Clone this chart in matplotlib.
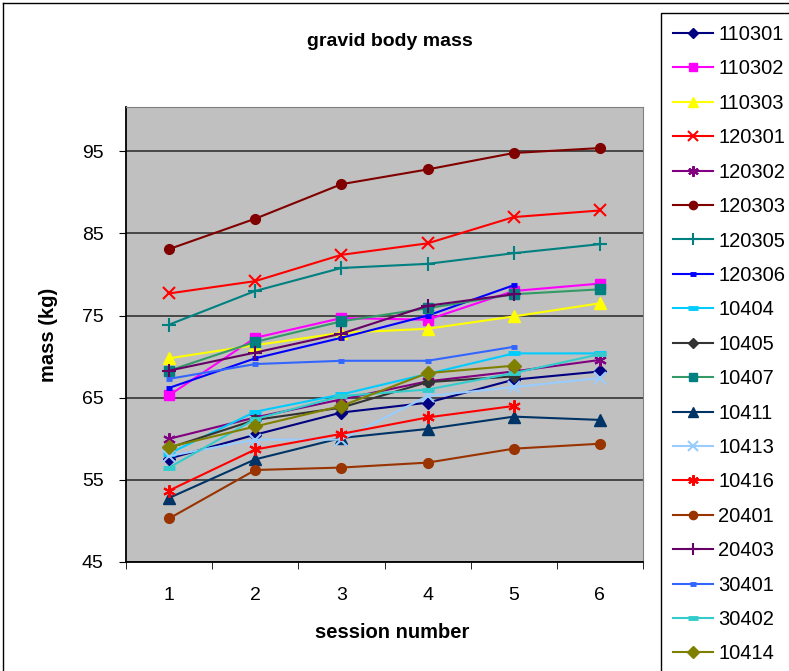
import numpy as np
import matplotlib.pyplot as plt
from matplotlib.lines import Line2D

plt.rcParams['font.family'] = ['Liberation Sans', 'DejaVu Sans']

nan = np.nan
sessions = [1, 2, 3, 4, 5, 6]
names = ['110301', '110302', '110303', '120301', '120302', '120303', '120305',
         '120306', '10404', '10405', '10407', '10411', '10413', '10416',
         '20401', '20403', '30401', '30402', '10414']

# mass (kg) per session
s110301 = [57.6, 60.5, 63.2, 64.4, 67.2, 68.2]
s110302 = [65.3, 72.3, 74.7, 74.5, 78.0, 78.9]
s110303 = [69.8, 71.4, 72.9, 73.4, 74.9, 76.5]
s120301 = [77.7, 79.2, 82.4, 83.8, 87.0, 87.8]
s120302 = [60.0, 62.6, 64.8, 67.0, 68.2, 69.6]
s120303 = [83.1, 86.8, 91.0, 92.8, 94.8, 95.4]
s120305 = [73.9, 78.0, 80.8, 81.3, 82.6, 83.7]
s120306 = [66.2, 69.8, 72.3, 75.0, 78.7, nan]
s10404 = [58.2, 63.3, 65.4, 67.9, 70.4, 70.4]
s10405 = [58.9, 62.3, 63.8, 66.9, 67.6, nan]
s10407 = [68.3, 71.8, 74.3, 75.9, 77.6, 78.2]
s10411 = [52.8, 57.5, 60.1, 61.2, 62.7, 62.3]
s10413 = [57.9, 59.9, 59.9, 65.2, 66.3, 67.4]
s10416 = [53.7, 58.7, 60.6, 62.6, 64.0, nan]
s20401 = [50.3, 56.2, 56.5, 57.1, 58.8, 59.4]
s20403 = [68.3, 70.5, 72.8, 76.2, 77.6, nan]
s30401 = [67.3, 69.1, 69.5, 69.5, 71.2, nan]
s30402 = [56.5, 62.4, 65.2, 66.0, 68.0, 70.3]
s10414 = [59.0, 61.5, 64.0, 68.0, 68.9, nan]

series = [s110301, s110302, s110303, s120301, s120302, s120303, s120305,
          s120306, s10404, s10405, s10407, s10411, s10413, s10416,
          s20401, s20403, s30401, s30402, s10414]

star = (6, 2, 0)
# (line colour, marker colour, marker, size, edge width)
styles = [
    ('#000080', '#000080', 'D', 6, 1),
    ('#FF00FF', '#FF00FF', 's', 7, 1),
    ('#FFFF00', '#FFFF00', '^', 8, 1),
    ('#FF0000', '#FF0000', 'x', 8, 1.5),
    ('#800080', '#800080', star, 9, 1.5),
    ('#800000', '#800000', 'o', 7, 1),
    ('#008080', '#008080', '+', 10, 1.5),
    ('#0000FF', '#0000FF', '_', 5, 3.5),
    ('#00CCFF', '#00CCFF', '_', 8, 3.5),
    ('#333333', '#333333', 'D', 6, 1),
    ('#339966', '#008080', 's', 7, 1),
    ('#003366', '#003366', '^', 8, 1),
    ('#99CCFF', '#99CCFF', 'x', 8, 1.5),
    ('#FF0000', '#FF0000', star, 9, 1.5),
    ('#993300', '#993300', 'o', 7, 1),
    ('#660066', '#660066', '+', 10, 1.5),
    ('#3366FF', '#3366FF', '_', 5, 3.5),
    ('#33CCCC', '#33CCCC', '_', 8, 3.5),
    ('#808000', '#808000', 'D', 7, 1),
]

fig = plt.figure(figsize=(7.89, 6.71), dpi=100)
W, H = 789, 671
ax = fig.add_axes([126 / W, 1 - 562 / H, (643 - 126) / W, (562 - 107) / H])
ax.set_facecolor('#C0C0C0')

handles = []
for name, vals, (lc, mc, mk, ms, mew) in zip(names, series, styles):
    h, = ax.plot(sessions, vals, color=lc, lw=1.5, marker=mk, ms=ms,
                 mfc=mc, mec=mc, mew=mew, label=name)
    handles.append(h)

ax.set_xlim(0.5, 6.5)
ax.set_ylim(45, 100.4)
ax.set_yticks(range(45, 100, 10))
ax.yaxis.grid(True, color='#333333', lw=1.2)
ax.set_axisbelow(True)
ax.set_xticks(sessions)
ax.set_xticks(np.arange(0.5, 7, 1), minor=True)
ax.tick_params(axis='x', which='major', length=0, pad=18, labelsize=14)
ax.tick_params(axis='x', which='minor', length=5, direction='out')
ax.tick_params(axis='y', length=5, direction='out', pad=11, labelsize=14)
for s in ['top', 'right']:
    ax.spines[s].set_color('#808080')
for s in ['left', 'bottom']:
    ax.spines[s].set_linewidth(1.3)

fig.text(390 / W, 1 - 42 / H, 'gravid body mass', ha='center', va='center',
         fontsize=14, fontweight='bold')
fig.text(48 / W, 1 - 335 / H, 'mass (kg)', ha='center', va='center',
         rotation=90, fontsize=14.5, fontweight='bold')
fig.text(392 / W, 1 - 633 / H, 'session number', ha='center', va='center',
         fontsize=14.5, fontweight='bold')

# chart border (left and top edges visible)
fig.add_artist(Line2D([3 / W, 3 / W], [0, 1 - 3 / H], color='black', lw=1))
fig.add_artist(Line2D([3 / W, 1], [1 - 3 / H, 1 - 3 / H], color='black', lw=1))

leg = fig.legend(handles=handles, loc='upper left',
                 bbox_to_anchor=(661 / W, 1 - 13 / H), fontsize=14.5,
                 handlelength=2.0, handletextpad=0.25, labelspacing=0.765,
                 borderpad=0.6, borderaxespad=0, fancybox=False,
                 edgecolor='black', framealpha=1, markerscale=0.85)
leg.get_frame().set_linewidth(1)

plt.savefig('out.png', dpi=100)
